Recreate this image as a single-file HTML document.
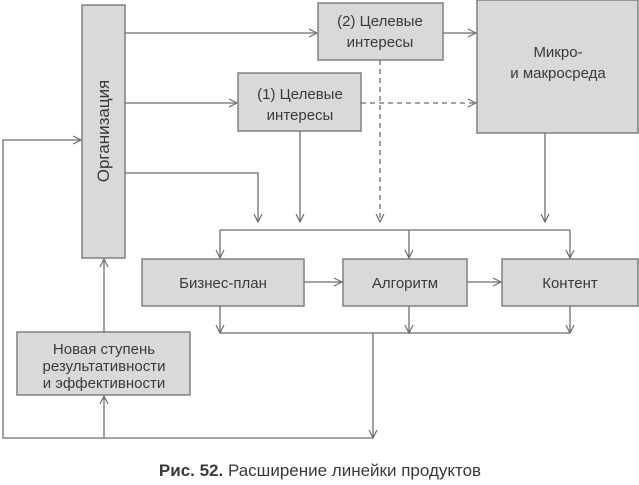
<!DOCTYPE html>
<html><head><meta charset="utf-8"><style>
body{margin:0;background:#fff;}
svg{display:block;font-family:"Liberation Sans","DejaVu Sans",sans-serif;}
.b{fill:#d9d9d9;stroke:#808080;stroke-width:1.5}
.l{stroke:#6e6e6e;stroke-width:1.3;fill:none}
.t{font-size:15px;fill:#3a3a3a;text-anchor:middle}
</style></head><body>
<svg width="639" height="485" viewBox="0 0 639 485">
<defs><marker id="a" markerWidth="10" markerHeight="10" refX="9" refY="5" orient="auto" markerUnits="userSpaceOnUse"><path d="M1,1 L9,5 L1,9" fill="none" stroke="#6e6e6e" stroke-width="1.2"/></marker></defs>
<rect class="b" x="82" y="5" width="43" height="253"/>
<rect class="b" x="318" y="3" width="125" height="57"/>
<rect class="b" x="477" y="0" width="161" height="133"/>
<rect class="b" x="238" y="73" width="123" height="58"/>
<rect class="b" x="142" y="259" width="162" height="47"/>
<rect class="b" x="343" y="259" width="124" height="47"/>
<rect class="b" x="502" y="259" width="136" height="47"/>
<rect class="b" x="17" y="332" width="173" height="63"/>
<text class="t" transform="translate(109,131) rotate(-90)" style="font-size:17px">Организация</text>
<text class="t" x="380" y="26">(2) Целевые</text><text class="t" x="380" y="47">интересы</text>
<text class="t" x="300" y="99">(1) Целевые</text><text class="t" x="300" y="120">интересы</text>
<text class="t" x="558" y="57">Микро-</text><text class="t" x="558" y="78">и макросреда</text>
<text class="t" x="223" y="288">Бизнес-план</text>
<text class="t" x="405" y="288">Алгоритм</text>
<text class="t" x="570" y="288">Контент</text>
<text class="t" x="104" y="354">Новая ступень</text><text class="t" x="104" y="371">результативности</text><text class="t" x="104" y="388">и эффективности</text>
<g class="l">
<path d="M125,33H317" marker-end="url(#a)"/>
<path d="M443,33H476" marker-end="url(#a)"/>
<path d="M125,103H237" marker-end="url(#a)"/>
<path d="M125,173H258V222" marker-end="url(#a)"/>
<path d="M300,131V222" marker-end="url(#a)"/>
<path d="M380,60V222" stroke-dasharray="5,4" marker-end="url(#a)"/>
<path d="M361,103H476" stroke-dasharray="5,4" marker-end="url(#a)"/>
<path d="M545,133V222" marker-end="url(#a)"/>
<path d="M220,230H570"/>
<path d="M220,230V258" marker-end="url(#a)"/>
<path d="M409,230V258" marker-end="url(#a)"/>
<path d="M570,230V258" marker-end="url(#a)"/>
<path d="M304,282H342" marker-end="url(#a)"/>
<path d="M467,282H501" marker-end="url(#a)"/>
<path d="M220,306V333" marker-end="url(#a)"/>
<path d="M409,306V333" marker-end="url(#a)"/>
<path d="M570,306V333" marker-end="url(#a)"/>
<path d="M220,333H570"/>
<path d="M373,333V438" marker-end="url(#a)"/>
<path d="M373,438H3V140H81" marker-end="url(#a)"/>
<path d="M104,438V396" marker-end="url(#a)"/>
<path d="M104,332V259" marker-end="url(#a)"/>
</g>
<text x="320" y="476" font-size="17" fill="#3a3a3a" text-anchor="middle"><tspan font-weight="bold">Рис. 52.</tspan> Расширение линейки продуктов</text>
</svg>
</body></html>
